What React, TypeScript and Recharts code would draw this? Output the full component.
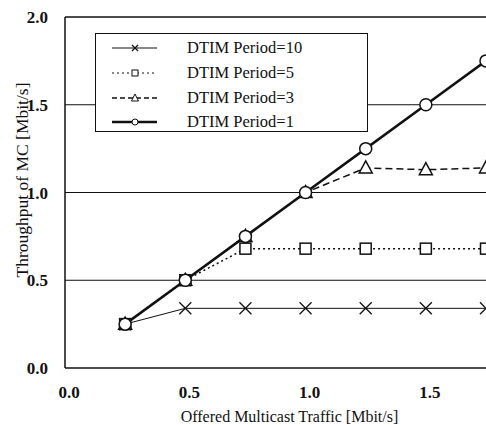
import React from 'react';
import { ComposedChart, Line, XAxis, YAxis, CartesianGrid, ReferenceLine, Legend } from 'recharts';

const traffic = [0.25, 0.5, 0.75, 1.0, 1.25, 1.5, 1.75];
const dtim10 = [0.25, 0.34, 0.34, 0.34, 0.34, 0.34, 0.34];
const dtim5 = [0.25, 0.5, 0.68, 0.68, 0.68, 0.68, 0.68];
const dtim3 = [0.25, 0.5, 0.75, 1.0, 1.14, 1.13, 1.14];
const dtim1 = [0.25, 0.5, 0.75, 1.0, 1.25, 1.5, 1.75];
const xTicks = [0, 0.5, 1.0, 1.5];
const yTicks = [0, 0.5, 1.0, 1.5, 2.0];
const seriesNames = ['DTIM Period=10', 'DTIM Period=5', 'DTIM Period=3', 'DTIM Period=1'];

const data = traffic.map((t, i) => ({ t, d10: dtim10[i], d5: dtim5[i], d3: dtim3[i], d1: dtim1[i] }));

const FONT = 'Liberation Serif';
const INK = '#111';

const Cross = (props: any) => {
  const { cx, cy, key } = props;
  if (cx == null || cy == null) return <g key={key} />;
  const s = 6;
  return (
    <g key={key}>
      <line x1={cx - s} y1={cy - s} x2={cx + s} y2={cy + s} stroke={INK} strokeWidth={1.3} />
      <line x1={cx - s} y1={cy + s} x2={cx + s} y2={cy - s} stroke={INK} strokeWidth={1.3} />
    </g>
  );
};
const Square = (props: any) => {
  const { cx, cy, key } = props;
  if (cx == null || cy == null) return <g key={key} />;
  return <rect key={key} x={cx - 5.5} y={cy - 5.5} width={11} height={11} fill="#fff" stroke={INK} strokeWidth={1.5} />;
};
const Tri = (props: any) => {
  const { cx, cy, key } = props;
  if (cx == null || cy == null) return <g key={key} />;
  return <polygon key={key} points={`${cx},${cy - 7} ${cx - 6.5},${cy + 5} ${cx + 6.5},${cy + 5}`} fill="#fff" stroke={INK} strokeWidth={1.5} />;
};
const Circ = (props: any) => {
  const { cx, cy, key } = props;
  if (cx == null || cy == null) return <g key={key} />;
  return <circle key={key} cx={cx} cy={cy} r={6} fill="#fff" stroke={INK} strokeWidth={1.5} />;
};

const LegendBox = () => {
  const rows = [
    { dash: undefined, w: 1, m: 'x' },
    { dash: '2 3', w: 1.2, m: 's' },
    { dash: '5 3', w: 1.3, m: 't' },
    { dash: undefined, w: 2.5, m: 'c' },
  ];
  const ys = [14, 39, 64, 88];
  return (
    <div style={{ width: 273, height: 99, border: `1.5px solid ${INK}`, background: '#fff', boxSizing: 'border-box' }}>
      <svg width={270} height={96}>
        {rows.map((r, i) => {
          const y = ys[i];
          const cx = 39;
          return (
            <g key={i}>
              <line x1={16} x2={61} y1={y} y2={y} stroke={INK} strokeWidth={r.w} strokeDasharray={r.dash} />
              {r.m === 'x' && (
                <g>
                  <line x1={cx - 3} y1={y - 3} x2={cx + 3} y2={y + 3} stroke={INK} strokeWidth={1.2} />
                  <line x1={cx - 3} y1={y + 3} x2={cx + 3} y2={y - 3} stroke={INK} strokeWidth={1.2} />
                </g>
              )}
              {r.m === 's' && <rect x={cx - 3} y={y - 3} width={6} height={6} fill="#fff" stroke={INK} strokeWidth={1} />}
              {r.m === 't' && <polygon points={`${cx},${y - 4} ${cx - 3.5},${y + 3} ${cx + 3.5},${y + 3}`} fill="#fff" stroke={INK} strokeWidth={1} />}
              {r.m === 'c' && <circle cx={cx} cy={y} r={3} fill="#fff" stroke={INK} strokeWidth={1} />}
              <text x={91} y={y + 5} fontFamily={FONT} fontSize={16.5} fill={INK}>{seriesNames[i]}</text>
            </g>
          );
        })}
      </svg>
    </div>
  );
};

const YTitle = (props: any) => {
  return (
    <text x={22} y={180} transform="rotate(-90 22 180)" textAnchor="middle" dominantBaseline="central" fontFamily={FONT} fontSize={17.5} fill={INK}>
      Throughput of MC [Mbit/s]
    </text>
  );
};

export default function App() {
  return (
    <div style={{ position: 'absolute', left: 0, top: 0, background: '#fff', fontFamily: FONT }}>
      <ComposedChart width={486} height={425} data={data} margin={{ top: 17, right: 0, bottom: 0, left: 0 }}>
        <CartesianGrid vertical={false} horizontal={true} stroke={INK} strokeWidth={1} horizontalValues={[0.5, 1.0, 1.5]} />
        <ReferenceLine y={2} stroke={INK} strokeWidth={1.5} ifOverflow="visible" />
        <XAxis
          dataKey="t"
          type="number"
          domain={[0, 1.75]}
          ticks={xTicks}
          allowDataOverflow
          tickFormatter={(v: number) => v.toFixed(1)}
          tick={{ fontSize: 17, fill: INK, fontWeight: 'bold', dx: 4, fontFamily: FONT }}
          tickLine={false}
          axisLine={{ stroke: INK, strokeWidth: 1.5 }}
          tickMargin={12}
          height={57}
          label={{ value: 'Offered Multicast Traffic [Mbit/s]', position: 'insideBottom', offset: 3, dx: 14, fontFamily: FONT, fontSize: 16, fill: INK }}
        />
        <YAxis
          type="number"
          domain={[0, 2]}
          ticks={yTicks}
          tickFormatter={(v: number) => v.toFixed(1)}
          tick={{ fontSize: 17, fill: INK, fontWeight: 'bold', fontFamily: FONT }}
          tickLine={false}
          axisLine={{ stroke: INK, strokeWidth: 1.5 }}
          tickMargin={11}
          width={65}
          label={<YTitle />}
        />
        <Legend
          layout="horizontal"
          verticalAlign="middle"
          align="center"
          content={() => <LegendBox />}
          wrapperStyle={{ position: 'absolute', left: 95, top: 33, width: 273, height: 99 }}
        />
        <Line dataKey="d10" name={seriesNames[0]} stroke={INK} strokeWidth={1} dot={Cross} activeDot={false} isAnimationActive={false} />
        <Line dataKey="d5" name={seriesNames[1]} stroke={INK} strokeWidth={1.5} strokeDasharray="2 3" dot={Square} activeDot={false} isAnimationActive={false} />
        <Line dataKey="d3" name={seriesNames[2]} stroke={INK} strokeWidth={1.5} strokeDasharray="7 4" dot={Tri} activeDot={false} isAnimationActive={false} />
        <Line dataKey="d1" name={seriesNames[3]} stroke={INK} strokeWidth={2.5} dot={Circ} activeDot={false} isAnimationActive={false} />
      </ComposedChart>
    </div>
  );
}
